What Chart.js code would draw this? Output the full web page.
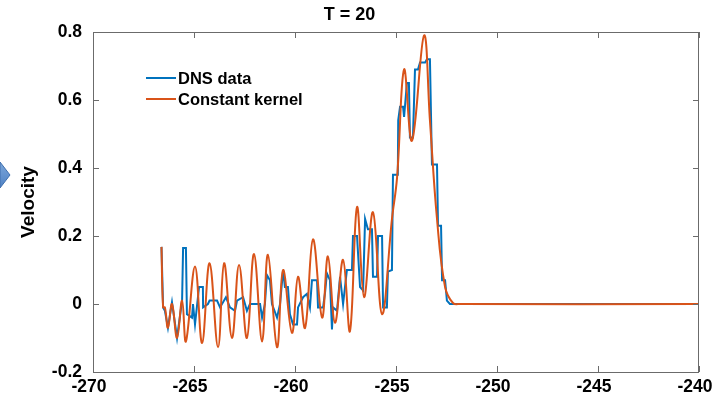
<!DOCTYPE html>
<html>
<head>
<meta charset="utf-8">
<script src="https://cdn.jsdelivr.net/npm/chart.js@4"></script>
<style>
  html, body { margin: 0; padding: 0; background: #fff; }
  #wrap { width: 717px; height: 400px; position: relative; }
</style>
</head>
<body>
<div id="wrap"><canvas id="chart" width="717" height="400"></canvas></div>
<script>
// x positions and values
const dnsX = [-266.61, -266.53, -266.44, -266.29, -266.09, -265.84, -265.59, -265.54, -265.40, -265.35,
  -265.10, -265.05, -264.95, -264.75, -264.56, -264.55, -264.31, -264.23, -263.86, -263.71,
  -263.42, -263.22, -262.97, -262.87, -262.57, -262.38, -262.23, -261.73, -261.63, -261.49,
  -261.39, -261.24, -261.14, -260.89, -260.74, -260.59, -260.50, -260.35, -260.25, -260.10,
  -259.90, -259.85, -259.60, -259.41, -259.26, -259.16, -258.91, -258.86, -258.61, -258.51,
  -258.42, -258.27, -258.17, -258.12, -257.92, -257.77, -257.62, -257.43, -257.18, -257.13,
  -256.93, -256.78, -256.63, -256.53, -256.39, -256.19, -256.14, -255.94, -255.89, -255.69,
  -255.64, -255.45, -255.40, -255.20, -255.15, -254.91, -254.89, -254.80, -254.65, -254.60,
  -254.46, -254.36, -254.31, -254.16, -254.06, -253.91, -253.81, -253.56, -253.47, -253.32,
  -253.22, -252.97, -252.92, -252.77, -252.72, -252.57, -252.48, -252.33, -240];
const dnsY = [0.168, -0.01, -0.02, -0.07, 0.005, -0.10, 0.01, 0.165, 0.165, -0.03,
  -0.04, 0.0, -0.06, 0.05, 0.05, -0.01, 0.0, 0.01, 0.01, -0.01,
  0.02, -0.01, -0.02, 0.01, 0.02, -0.02, 0.0, 0.0, -0.04, 0.0,
  0.085, 0.07, 0.0, -0.04, 0.0, 0.10, 0.05, 0.05, -0.03, -0.06,
  -0.06, -0.01, 0.02, 0.03, -0.01, 0.07, 0.07, -0.01, -0.01, 0.035,
  0.09, 0.07, -0.075, -0.01, -0.02, 0.08, 0.0, 0.10, 0.10, 0.20,
  0.20, 0.05, 0.04, 0.25, 0.22, 0.22, 0.08, 0.08, 0.20, 0.20,
  -0.01, -0.01, 0.095, 0.10, 0.38, 0.38, 0.54, 0.58, 0.58, 0.55,
  0.65, 0.65, 0.49, 0.49, 0.69, 0.69, 0.71, 0.71, 0.72, 0.72,
  0.41, 0.41, 0.23, 0.23, 0.07, 0.07, 0.01, 0.0, 0.0];

const kernelX = [-266.61, -266.53, -266.44, -266.29, -266.09, -265.84, -265.59, -265.40, -264.95, -264.60,
  -264.23, -263.81, -263.51, -263.12, -262.77, -262.38, -262.03, -261.63, -261.34, -260.89,
  -260.59, -260.15, -259.85, -259.50, -259.11, -258.66, -258.37, -258.02, -257.62, -257.28,
  -256.93, -256.58, -256.14, -255.69, -255.20, -254.95, -254.60, -254.21, -253.61, -253.32,
  -252.97, -252.57, -252.18, -251.83, -240];
const kernelY = [0.168, -0.01, -0.01, -0.07, 0.0, -0.10, 0.01, -0.11, 0.11, -0.115,
  0.12, -0.127, 0.12, -0.10, 0.115, -0.10, 0.147, -0.11, 0.145, -0.127,
  0.10, -0.085, 0.08, -0.07, 0.19, -0.04, 0.14, -0.055, 0.13, -0.08,
  0.285, 0.02, 0.27, -0.03, 0.25, 0.37, 0.69, 0.48, 0.79, 0.54,
  0.25, 0.05, 0.003, 0, 0];

const xTicks = [-270, -265, -260, -255, -250, -245, -240];
const yTicks = [-0.2, 0, 0.2, 0.4, 0.6, 0.8];

const seriesNames = ['DNS data', 'Constant kernel'];
const seriesColors = ['#0072BD', '#D95319'];

const FONT = '"Liberation Sans", Arial, sans-serif';

// matlab style box with inward ticks, legend inside, slide arrow at the left
const boxPlugin = {
  id: 'boxPlugin',
  afterDraw(chart) {
    const ctx = chart.ctx;
    const a = chart.chartArea;
    const xs = chart.scales.x, ys = chart.scales.y;
    ctx.save();
    ctx.strokeStyle = '#6b6b6b';
    ctx.lineWidth = 1;
    ctx.strokeRect(a.left + 0.5, a.top + 0.5, a.right - a.left - 1, a.bottom - a.top);
    ctx.beginPath();
    xTicks.forEach(v => {
      const px = Math.round(xs.getPixelForValue(v)) + 0.5;
      ctx.moveTo(px, a.bottom); ctx.lineTo(px, a.bottom - 6);
      ctx.moveTo(px, a.top); ctx.lineTo(px, a.top + 6);
    });
    yTicks.forEach(v => {
      const py = Math.round(ys.getPixelForValue(v)) + 0.5;
      ctx.moveTo(a.left, py); ctx.lineTo(a.left + 6, py);
      ctx.moveTo(a.right, py); ctx.lineTo(a.right - 6, py);
    });
    ctx.stroke();

    // legend
    ctx.font = 'bold 16.5px ' + FONT;
    ctx.textBaseline = 'middle';
    ctx.textAlign = 'left';
    seriesNames.forEach((name, i) => {
      const y = 78 + i * 21;
      ctx.strokeStyle = seriesColors[i];
      ctx.lineWidth = 2;
      ctx.beginPath();
      ctx.moveTo(146, y); ctx.lineTo(176, y);
      ctx.stroke();
      ctx.fillStyle = '#000';
      ctx.fillText(name, 178, y + 1);
    });

    // arrow tip from the slide
    const g = ctx.createLinearGradient(0, 160, 0, 188);
    g.addColorStop(0, '#7fa9dc');
    g.addColorStop(1, '#4f82c4');
    ctx.fillStyle = g;
    ctx.strokeStyle = '#3f6fae';
    ctx.lineWidth = 1;
    ctx.beginPath();
    ctx.moveTo(0, 162);
    ctx.lineTo(10, 175);
    ctx.lineTo(0, 188);
    ctx.closePath();
    ctx.fill();
    ctx.stroke();
    ctx.restore();
  }
};

const toPoints = (xs, ys) => xs.map((x, i) => ({ x: x, y: ys[i] }));

new Chart(document.getElementById('chart'), {
  type: 'line',
  data: {
    datasets: [
      {
        label: seriesNames[0],
        data: toPoints(dnsX, dnsY),
        borderColor: seriesColors[0],
        borderWidth: 2,
        pointRadius: 0,
        tension: 0,
        order: 2
      },
      {
        label: seriesNames[1],
        data: toPoints(kernelX, kernelY),
        borderColor: seriesColors[1],
        borderWidth: 2,
        pointRadius: 0,
        tension: 0.4,
        order: 1
      }
    ]
  },
  options: {
    responsive: false,
    animation: false,
    layout: { padding: { left: 0, right: 18, top: 0, bottom: 0 } },
    plugins: {
      legend: { display: false },
      tooltip: { enabled: false },
      title: {
        display: true,
        text: 'T = 20',
        color: '#000',
        font: { family: FONT, size: 18, weight: 'bold' },
        padding: { top: 4, bottom: 6.4 }
      }
    },
    scales: {
      x: {
        type: 'linear',
        min: -270,
        max: -240,
        afterBuildTicks: s => { s.ticks = xTicks.map(v => ({ value: v })); },
        afterFit: s => { s.height = 28; s.paddingLeft = 0; s.paddingRight = 0; },
        grid: { display: false, drawTicks: false },
        border: { display: false },
        ticks: {
          color: '#000',
          padding: 5,
          labelOffset: -4,
          maxRotation: 0,
          font: { family: FONT, size: 17.5, weight: 'bold' },
          callback: v => String(v)
        }
      },
      y: {
        type: 'linear',
        min: -0.2,
        max: 0.8,
        afterBuildTicks: s => { s.ticks = yTicks.map(v => ({ value: v })); },
        afterFit: s => { s.width = 93; s.paddingTop = 0; s.paddingBottom = 0; },
        grid: { display: false, drawTicks: false },
        border: { display: false },
        title: {
          display: true,
          text: 'Velocity',
          color: '#000',
          font: { family: FONT, size: 19, weight: 'bold' },
          padding: { top: 17, bottom: 0 }
        },
        ticks: {
          color: '#000',
          padding: 11,
          font: { family: FONT, size: 17.5, weight: 'bold' },
          callback: v => String(Math.round(v * 10) / 10)
        }
      }
    }
  },
  plugins: [boxPlugin]
});
</script>
</body>
</html>
